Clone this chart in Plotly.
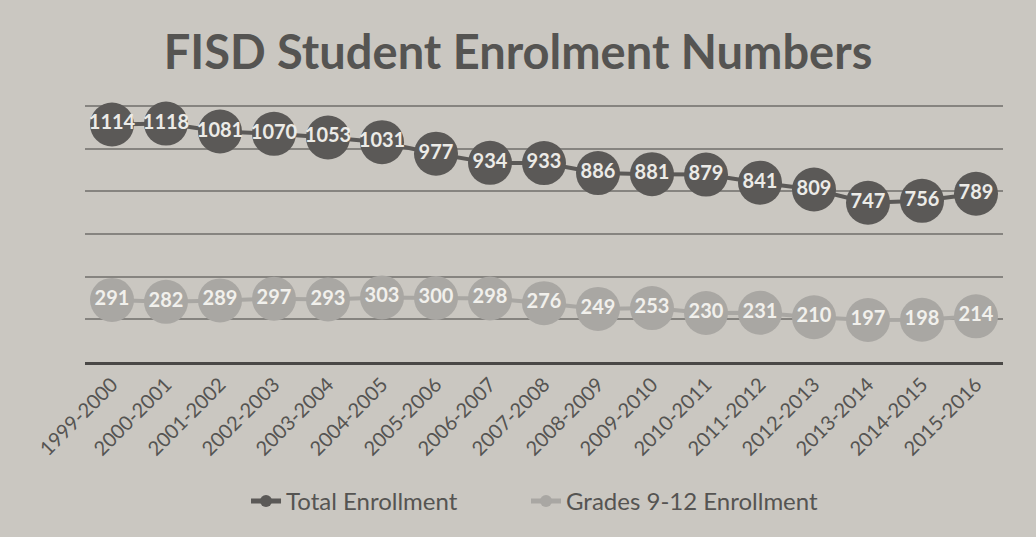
import plotly.graph_objects as go

years = ["1999-2000", "2000-2001", "2001-2002", "2002-2003", "2003-2004", "2004-2005",
         "2005-2006", "2006-2007", "2007-2008", "2008-2009", "2009-2010", "2010-2011",
         "2011-2012", "2012-2013", "2013-2014", "2014-2015", "2015-2016"]
total_enrollment = [1114, 1118, 1081, 1070, 1053, 1031, 977, 934, 933, 886, 881, 879,
                    841, 809, 747, 756, 789]
grades_9_12 = [291, 282, 289, 297, 293, 303, 300, 298, 276, 249, 253, 230, 231, 210,
               197, 198, 214]

dark = "#5b5957"
light = "#a9a7a3"
bg = "#cac7c1"

fig = go.Figure()
fig.add_trace(go.Scatter(
    x=years, y=total_enrollment, name="Total Enrollment",
    mode="lines+markers+text", text=[str(v) for v in total_enrollment],
    textposition="middle center",
    textfont=dict(family="Lato", size=20, color="#ecebe7", weight="bold"),
    line=dict(color=dark, width=4),
    marker=dict(size=44, color=dark),
    cliponaxis=False,
    legend="legend",
))
fig.add_trace(go.Scatter(
    x=years, y=grades_9_12, name="Grades 9-12 Enrollment",
    mode="lines+markers+text", text=[str(v) for v in grades_9_12],
    textposition="middle center",
    textfont=dict(family="Lato", size=20, color="#f1f0ec", weight="bold"),
    line=dict(color=light, width=4),
    marker=dict(size=44, color=light),
    cliponaxis=False,
    legend="legend2",
))

legend_style = dict(orientation="h", xanchor="left", y=-0.54, yanchor="middle",
                    font=dict(family="Lato", size=24, color="#555452"),
                    bgcolor="rgba(0,0,0,0)", itemsizing="constant")

fig.update_layout(
    width=1036, height=537,
    paper_bgcolor=bg, plot_bgcolor=bg,
    margin=dict(l=85, r=33, t=104, b=175),
    title=dict(text="<b>FISD Student Enrolment Numbers</b>", x=0.5, xanchor="center",
               y=0.902, yanchor="middle",
               font=dict(family="Lato", size=47, color="#555452")),
    showlegend=True,
    legend=dict(x=0.1754, **legend_style),
    legend2=dict(x=0.4804, **legend_style),
    xaxis=dict(type="category", range=[-0.5, 16.5], tickangle=-45,
               tickfont=dict(family="Lato", size=20, color="#555452"),
               showgrid=False, showline=True, linecolor="#4a4846", linewidth=3,
               ticks="", zeroline=False),
    yaxis=dict(range=[0, 1210], tickvals=[200, 400, 600, 800, 1000, 1200],
               showticklabels=False,
               showgrid=True, gridcolor="#868480", gridwidth=1.5,
               zeroline=False, showline=False, ticks=""),
)

fig.write_html("out.html")
